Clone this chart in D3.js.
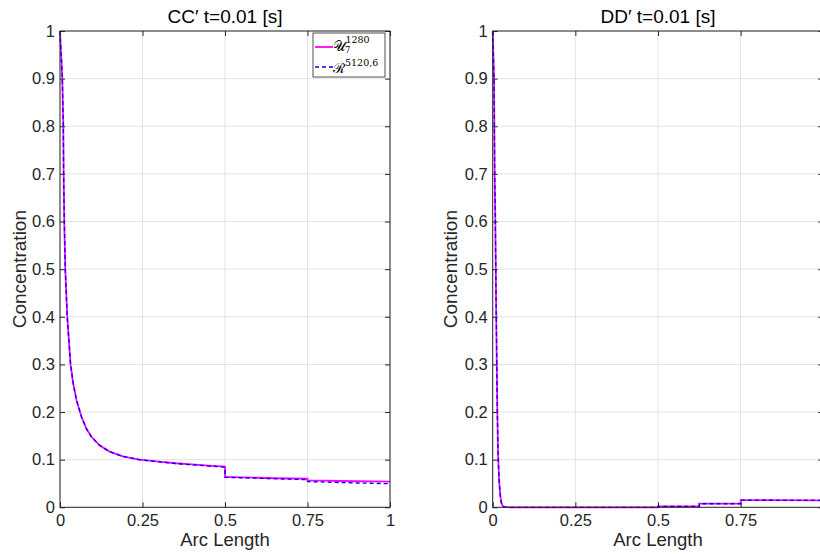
<!DOCTYPE html>
<html>
<head>
<meta charset="utf-8">
<script src="https://cdn.jsdelivr.net/npm/d3@7"></script>
<style>
  html, body { margin: 0; padding: 0; background: #fff; }
  svg { display: block; font-family: "Liberation Sans", Arial, Helvetica, sans-serif; }
</style>
</head>
<body>
<svg id="chart" width="820" height="554"></svg>
<script>
// ---------- data ----------
const xTicks = [0, 0.25, 0.5, 0.75, 1];
const xTickLabels = ["0", "0.25", "0.5", "0.75", "1"];
const yTicks = [0, 0.1, 0.2, 0.3, 0.4, 0.5, 0.6, 0.7, 0.8, 0.9, 1];
const yTickLabels = ["0", "0.1", "0.2", "0.3", "0.4", "0.5", "0.6", "0.7", "0.8", "0.9", "1"];

const titles = ["CC\u2032 t=0.01 [s]", "DD\u2032 t=0.01 [s]"];
const xLabel = "Arc Length";
const yLabel = "Concentration";

// CC' panel
const ccX_U = [0, 0.002, 0.005, 0.007, 0.010, 0.011, 0.013, 0.016, 0.019, 0.022, 0.027, 0.032, 0.040, 0.050, 0.065, 0.080, 0.095, 0.12, 0.15, 0.19, 0.24, 0.30, 0.35, 0.40, 0.45, 0.50, 0.50, 0.55, 0.60, 0.65, 0.70, 0.75, 0.75, 0.80, 0.85, 0.90, 0.95, 1.0];
const ccY_U = [1.0, 0.97, 0.93, 0.90, 0.80, 0.70, 0.60, 0.50, 0.45, 0.40, 0.35, 0.30, 0.26, 0.225, 0.19, 0.165, 0.148, 0.13, 0.117, 0.107, 0.100, 0.096, 0.0925, 0.090, 0.0875, 0.0855, 0.064, 0.063, 0.062, 0.061, 0.0605, 0.060, 0.0565, 0.0558, 0.0552, 0.0547, 0.0543, 0.054];
const ccX_R = [0, 0.002, 0.005, 0.007, 0.010, 0.011, 0.013, 0.016, 0.019, 0.022, 0.027, 0.032, 0.040, 0.050, 0.065, 0.080, 0.095, 0.12, 0.15, 0.19, 0.24, 0.30, 0.35, 0.40, 0.45, 0.50, 0.50, 0.55, 0.60, 0.65, 0.70, 0.75, 0.75, 0.80, 0.85, 0.90, 0.95, 1.0];
const ccY_R = [1.0, 0.97, 0.93, 0.90, 0.80, 0.70, 0.60, 0.50, 0.45, 0.40, 0.35, 0.30, 0.26, 0.225, 0.19, 0.165, 0.148, 0.13, 0.117, 0.107, 0.100, 0.0955, 0.092, 0.0893, 0.0865, 0.0843, 0.063, 0.062, 0.061, 0.060, 0.059, 0.058, 0.054, 0.053, 0.052, 0.051, 0.0503, 0.0495];

// DD' panel
const ddX_U = [0, 0.002, 0.004, 0.006, 0.008, 0.010, 0.012, 0.014, 0.016, 0.018, 0.020, 0.023, 0.026, 0.030, 0.035, 0.05, 0.1, 0.2, 0.3, 0.4, 0.5, 0.5, 0.625, 0.625, 0.75, 0.75, 0.875, 1.0];
const ddY_U = [1.0, 0.95, 0.90, 0.70, 0.60, 0.45, 0.32, 0.20, 0.12, 0.08, 0.05, 0.025, 0.010, 0.003, 0.001, 0, 0, 0, 0, 0, 0, 0.002, 0.002, 0.0077, 0.0077, 0.0152, 0.0149, 0.0146];
const ddX_R = [0, 0.002, 0.004, 0.006, 0.008, 0.010, 0.012, 0.014, 0.016, 0.018, 0.020, 0.023, 0.026, 0.030, 0.035, 0.05, 0.1, 0.2, 0.3, 0.4, 0.5, 0.5, 0.625, 0.625, 0.75, 0.75, 0.875, 1.0];
const ddY_R = [1.0, 0.95, 0.90, 0.70, 0.60, 0.45, 0.32, 0.20, 0.12, 0.08, 0.05, 0.025, 0.010, 0.003, 0.001, 0, 0, 0, 0, 0, 0, 0.0018, 0.0018, 0.0075, 0.0075, 0.0150, 0.0147, 0.0144];

// ---------- drawing ----------
const svg = d3.select("#chart");
const axisColor = "#262626";
const gridColor = "#e3e3e3";

const panels = [
  { x0: 60, x1: 390, title: titles[0], U: [ccX_U, ccY_U], R: [ccX_R, ccY_R], legend: true, ylabX: 26 },
  { x0: 492.7, x1: 823.3, title: titles[1], U: [ddX_U, ddY_U], R: [ddX_R, ddY_R], legend: false, ylabX: 456.5 }
];
const yTop = 31, yBot = 507.3;

panels.forEach(p => {
  const x = d3.scaleLinear().domain([0, 1]).range([p.x0, p.x1]);
  const y = d3.scaleLinear().domain([0, 1]).range([yBot, yTop]);
  const g = svg.append("g");

  // grid
  g.append("g").selectAll("line").data(xTicks).join("line")
    .attr("x1", d => x(d)).attr("x2", d => x(d))
    .attr("y1", yTop).attr("y2", yBot)
    .attr("stroke", gridColor).attr("stroke-width", 1);
  g.append("g").selectAll("line").data(yTicks).join("line")
    .attr("x1", p.x0).attr("x2", p.x1)
    .attr("y1", d => y(d)).attr("y2", d => y(d))
    .attr("stroke", gridColor).attr("stroke-width", 1);

  // lines
  const lineGen = d3.line().x(d => x(d[0])).y(d => y(d[1]));
  const uPts = p.U[0].map((v, i) => [v, p.U[1][i]]);
  const rPts = p.R[0].map((v, i) => [v, p.R[1][i]]);
  g.append("path").datum(uPts).attr("d", lineGen)
    .attr("fill", "none").attr("stroke", "#ff00ff").attr("stroke-width", 1.8);
  g.append("path").datum(rPts).attr("d", lineGen)
    .attr("fill", "none").attr("stroke", "#0000ff").attr("stroke-width", 1.3)
    .attr("stroke-dasharray", "4,3");

  // axes
  const ax = (axis, tx, ty) => {
    const a = g.append("g").attr("transform", `translate(${tx},${ty})`).call(axis);
    a.select(".domain").remove();
    a.selectAll(".tick line").attr("stroke", axisColor).attr("stroke-width", 1);
    a.selectAll("text").attr("fill", axisColor).style("font-size", "16.5px")
      .style("font-family", '"Liberation Sans", Arial, sans-serif');
    return a;
  };
  ax(d3.axisBottom(x).tickValues(xTicks).tickFormat((d, i) => xTickLabels[i]).tickSizeInner(-5).tickSizeOuter(0).tickPadding(7), 0, yBot);
  ax(d3.axisTop(x).tickValues(xTicks).tickFormat("").tickSizeInner(-5).tickSizeOuter(0), 0, yTop);
  ax(d3.axisLeft(y).tickValues(yTicks).tickFormat((d, i) => yTickLabels[i]).tickSizeInner(-5).tickSizeOuter(0).tickPadding(5), p.x0, 0);
  ax(d3.axisRight(y).tickValues(yTicks).tickFormat("").tickSizeInner(-5).tickSizeOuter(0), p.x1, 0);

  // box
  g.append("rect").attr("x", p.x0).attr("y", yTop)
    .attr("width", p.x1 - p.x0).attr("height", yBot - yTop)
    .attr("fill", "none").attr("stroke", axisColor).attr("stroke-width", 1);

  // title
  g.append("text").attr("x", (p.x0 + p.x1) / 2).attr("y", 23)
    .attr("text-anchor", "middle").attr("fill", "#000")
    .style("font-size", "19px").text(p.title);
  // x label
  g.append("text").attr("x", (p.x0 + p.x1) / 2).attr("y", 546)
    .attr("text-anchor", "middle").attr("fill", axisColor)
    .style("font-size", "18.5px").text(xLabel);
  // y label
  g.append("text").attr("transform", `translate(${p.ylabX},${(yTop + yBot) / 2}) rotate(-90)`)
    .attr("text-anchor", "middle").attr("fill", axisColor)
    .style("font-size", "19px").text(yLabel);

  // legend
  if (p.legend) {
    const lg = g.append("g");
    lg.append("rect").attr("x", 313).attr("y", 33).attr("width", 72).attr("height", 44)
      .attr("fill", "#fff").attr("stroke", axisColor).attr("stroke-width", 0.8);
    lg.append("line").attr("x1", 315).attr("x2", 333).attr("y1", 47).attr("y2", 47)
      .attr("stroke", "#ff00ff").attr("stroke-width", 1.8);
    lg.append("line").attr("x1", 315).attr("x2", 333).attr("y1", 67).attr("y2", 67)
      .attr("stroke", "#0000ff").attr("stroke-width", 1.3).attr("stroke-dasharray", "4,3");
    const t1 = lg.append("text").attr("x", 333).attr("y", 51)
      .style("font-family", '"DejaVu Serif", "Liberation Serif", serif').attr("fill", "#000");
    t1.append("tspan").style("font-size", "14px").text("\u{1D4B0}");
    t1.append("tspan").style("font-size", "8.5px").attr("dy", 2).attr("dx", -1).text("7");
    t1.append("tspan").style("font-size", "9.5px").attr("dy", -10).attr("dx", -5).text("1280");
    const t2 = lg.append("text").attr("x", 333).attr("y", 73)
      .style("font-family", '"DejaVu Serif", "Liberation Serif", serif').attr("fill", "#000");
    t2.append("tspan").style("font-size", "14px").text("\u211B");
    t2.append("tspan").style("font-size", "9.5px").attr("dy", -7).text("5120,6");
  }
});
</script>
</body>
</html>
